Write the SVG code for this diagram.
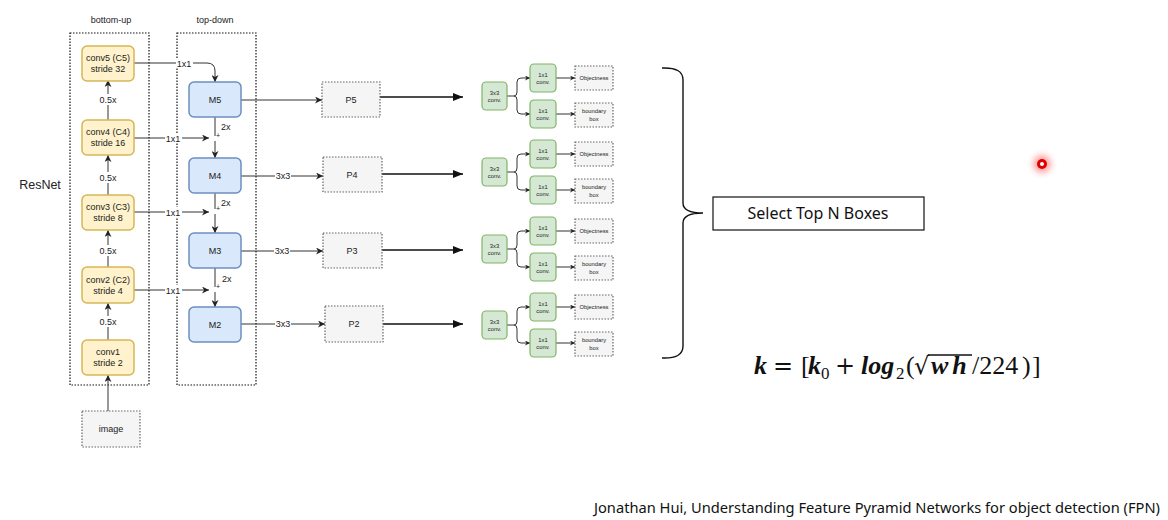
<svg xmlns="http://www.w3.org/2000/svg" width="1168" height="520" viewBox="0 0 1168 520">
<style>
text{font-family:"Liberation Sans",Arial,sans-serif;fill:#222}
.t9{font-size:9px}
.t6{font-size:5.8px}
.c{text-anchor:middle}
.dot{fill:none;stroke:#111;stroke-width:1.2;stroke-dasharray:1.5 1.5}
.yel{fill:#fff2cc;stroke:#d6b656;stroke-width:1.5}
.blu{fill:#dae8fc;stroke:#6c8ebf;stroke-width:1.5}
.grn{fill:#d5e8d4;stroke:#82b366;stroke-width:1.2}
.gry{fill:#f5f5f5;stroke:#666;stroke-width:1.2;stroke-dasharray:1.5 1.5}
.ln{fill:none;stroke:#333;stroke-width:1}
.thk{fill:none;stroke:#111;stroke-width:1.6}
.lbl{fill:#fff}
text.math{font-family:"Liberation Serif","DejaVu Serif",serif;font-size:26px;fill:#111}
.bi{font-weight:bold;font-style:italic}
.op{font-family:"DejaVu Serif",serif;font-size:24px}
</style>
<defs>
<marker id="a" viewBox="0 0 10 10" refX="10" refY="5" markerWidth="7" markerHeight="7" markerUnits="userSpaceOnUse" orient="auto"><path d="M0,0 L10,5 L0,10 L3,5 z" fill="#222"/></marker>
<marker id="ab" viewBox="0 0 10 10" refX="10" refY="5" markerWidth="10" markerHeight="10" markerUnits="userSpaceOnUse" orient="auto"><path d="M0,1 L10,5 L0,9 z" fill="#111"/></marker>
<marker id="as" viewBox="0 0 10 10" refX="10" refY="5" markerWidth="5" markerHeight="5" markerUnits="userSpaceOnUse" orient="auto"><path d="M0,0 L10,5 L0,10 L3,5 z" fill="#222"/></marker>
<filter id="blur" x="-1" y="-1" width="3" height="3"><feGaussianBlur stdDeviation="3"/></filter>
</defs>

<g id="frames">
<text class="t9 c" x="111" y="23">bottom-up</text>
<text class="t9 c" x="215" y="23">top-down</text>
<rect class="dot" x="70" y="33" width="79" height="352"/>
<rect class="dot" x="177" y="33" width="79" height="352"/>
<text x="40" y="189" class="c" style="font-size:12.5px">ResNet</text>
</g>

<g id="connectors">
<line class="ln" x1="108" y1="120" x2="108" y2="80" marker-end="url(#a)"/>
<line class="ln" x1="108" y1="195" x2="108" y2="155" marker-end="url(#a)"/>
<line class="ln" x1="108" y1="267" x2="108" y2="230" marker-end="url(#a)"/>
<line class="ln" x1="108" y1="340" x2="108" y2="303" marker-end="url(#a)"/>
<line class="ln" x1="108" y1="411" x2="108" y2="375" marker-end="url(#a)"/>
<rect class="lbl" x="96" y="94" width="24" height="11"/><text class="t9 c" x="108" y="103">0.5x</text>
<rect class="lbl" x="96" y="172" width="24" height="11"/><text class="t9 c" x="108" y="181">0.5x</text>
<rect class="lbl" x="96" y="245" width="24" height="11"/><text class="t9 c" x="108" y="254">0.5x</text>
<rect class="lbl" x="96" y="316" width="24" height="11"/><text class="t9 c" x="108" y="325">0.5x</text>
<path class="ln" d="M134,63 L207,63 Q215,63 215,71 L215,82" marker-end="url(#a)"/>
<rect class="lbl" x="176" y="58" width="17" height="10"/><text class="t9 c" x="184" y="66.5">1x1</text>
<line class="ln" x1="134" y1="138" x2="209" y2="138" marker-end="url(#a)"/>
<rect class="lbl" x="165" y="133" width="17" height="10"/><text class="t9 c" x="173" y="141.5">1x1</text>
<line class="ln" x1="134" y1="212" x2="209" y2="212" marker-end="url(#a)"/>
<rect class="lbl" x="165" y="207" width="17" height="10"/><text class="t9 c" x="173" y="215.5">1x1</text>
<line class="ln" x1="134" y1="290" x2="209" y2="290" marker-end="url(#a)"/>
<rect class="lbl" x="165" y="285" width="17" height="10"/><text class="t9 c" x="173" y="293.5">1x1</text>
<line class="ln" x1="215" y1="117" x2="215" y2="136"/>
<line class="ln" x1="215" y1="141" x2="215" y2="158" marker-end="url(#a)"/>
<line class="ln" x1="215" y1="193" x2="215" y2="209"/>
<line class="ln" x1="215" y1="214" x2="215" y2="233" marker-end="url(#a)"/>
<line class="ln" x1="215" y1="268" x2="215" y2="287"/>
<line class="ln" x1="215" y1="292" x2="215" y2="307" marker-end="url(#a)"/>
<text class="t9" x="221" y="130">2x</text>
<text class="t9" x="221" y="206">2x</text>
<text class="t9" x="222" y="282">2x</text>
<text x="216" y="138" style="font-size:7px">+</text>
<text x="216" y="211" style="font-size:7px">+</text>
<text x="216" y="289" style="font-size:7px">+</text>
<line class="ln" x1="241" y1="100" x2="322" y2="100" marker-end="url(#a)"/>
<line class="ln" x1="241" y1="176" x2="323" y2="176" marker-end="url(#a)"/>
<rect class="lbl" x="275" y="171" width="16" height="10"/><text class="t9 c" x="283" y="179">3x3</text>
<line class="ln" x1="241" y1="251" x2="323" y2="251" marker-end="url(#a)"/>
<rect class="lbl" x="274" y="246" width="16" height="10"/><text class="t9 c" x="282" y="254">3x3</text>
<line class="ln" x1="241" y1="324" x2="325" y2="324" marker-end="url(#a)"/>
<rect class="lbl" x="275" y="319" width="16" height="10"/><text class="t9 c" x="283" y="327">3x3</text>
<line class="thk" x1="380" y1="97" x2="463" y2="97" marker-end="url(#ab)"/>
<line class="thk" x1="382" y1="174" x2="463" y2="174" marker-end="url(#ab)"/>
<line class="thk" x1="382" y1="250" x2="463" y2="250" marker-end="url(#ab)"/>
<line class="thk" x1="383" y1="324" x2="463" y2="324" marker-end="url(#ab)"/>
<g transform="translate(0,96)">
<path class="ln" d="M507,0 L514,0 Q517,0 517,-4 L517,-14 Q517,-18 521,-18 L530,-18" marker-end="url(#as)"/>
<path class="ln" d="M514,0 Q517,0 517,4 L517,14 Q517,18 521,18 L530,18" marker-end="url(#as)"/>
<line class="ln" x1="556" y1="-18" x2="575" y2="-18" marker-end="url(#as)"/>
<line class="ln" x1="556" y1="18" x2="575" y2="18" marker-end="url(#as)"/>
</g>
<g transform="translate(0,172)">
<path class="ln" d="M507,0 L514,0 Q517,0 517,-4 L517,-14 Q517,-18 521,-18 L530,-18" marker-end="url(#as)"/>
<path class="ln" d="M514,0 Q517,0 517,4 L517,14 Q517,18 521,18 L530,18" marker-end="url(#as)"/>
<line class="ln" x1="556" y1="-18" x2="575" y2="-18" marker-end="url(#as)"/>
<line class="ln" x1="556" y1="18" x2="575" y2="18" marker-end="url(#as)"/>
</g>
<g transform="translate(0,249)">
<path class="ln" d="M507,0 L514,0 Q517,0 517,-4 L517,-14 Q517,-18 521,-18 L530,-18" marker-end="url(#as)"/>
<path class="ln" d="M514,0 Q517,0 517,4 L517,14 Q517,18 521,18 L530,18" marker-end="url(#as)"/>
<line class="ln" x1="556" y1="-18" x2="575" y2="-18" marker-end="url(#as)"/>
<line class="ln" x1="556" y1="18" x2="575" y2="18" marker-end="url(#as)"/>
</g>
<g transform="translate(0,325)">
<path class="ln" d="M507,0 L514,0 Q517,0 517,-4 L517,-14 Q517,-18 521,-18 L530,-18" marker-end="url(#as)"/>
<path class="ln" d="M514,0 Q517,0 517,4 L517,14 Q517,18 521,18 L530,18" marker-end="url(#as)"/>
<line class="ln" x1="556" y1="-18" x2="575" y2="-18" marker-end="url(#as)"/>
<line class="ln" x1="556" y1="18" x2="575" y2="18" marker-end="url(#as)"/>
</g>
<path fill="none" stroke="#111" stroke-width="1.4" d="M662,68 Q683,67 683,80 L683,203 Q683,213 703,213 Q683,213 683,223 L683,346 Q683,359 662,358"/>
</g>

<g id="conv5"><rect class="yel" x="82" y="46" width="52" height="35" rx="5"/><text class="t9 c" x="108" y="61">conv5 (C5)</text><text class="t9 c" x="108" y="72">stride 32</text></g>
<g id="conv4"><rect class="yel" x="82" y="120" width="52" height="35" rx="5"/><text class="t9 c" x="108" y="135">conv4 (C4)</text><text class="t9 c" x="108" y="146">stride 16</text></g>
<g id="conv3"><rect class="yel" x="82" y="195" width="52" height="35" rx="5"/><text class="t9 c" x="108" y="210">conv3 (C3)</text><text class="t9 c" x="108" y="221">stride 8</text></g>
<g id="conv2"><rect class="yel" x="82" y="267" width="52" height="36" rx="5"/><text class="t9 c" x="108" y="283">conv2 (C2)</text><text class="t9 c" x="108" y="294">stride 4</text></g>
<g id="conv1"><rect class="yel" x="82" y="340" width="52" height="35" rx="5"/><text class="t9 c" x="108" y="355">conv1</text><text class="t9 c" x="108" y="366">stride 2</text></g>
<g id="image"><rect class="gry" x="82" y="411" width="58" height="36"/><text class="t9 c" x="111" y="432">image</text></g>

<g id="M5"><rect class="blu" x="189" y="82" width="52" height="35" rx="5"/><text class="t9 c" x="215" y="103">M5</text></g>
<g id="M4"><rect class="blu" x="189" y="158" width="52" height="35" rx="5"/><text class="t9 c" x="215" y="179">M4</text></g>
<g id="M3"><rect class="blu" x="189" y="233" width="52" height="35" rx="5"/><text class="t9 c" x="215" y="254">M3</text></g>
<g id="M2"><rect class="blu" x="189" y="307" width="52" height="35" rx="5"/><text class="t9 c" x="215" y="328">M2</text></g>

<g id="P5"><rect class="gry" x="322" y="82" width="58" height="35"/><text class="t9 c" x="351" y="103">P5</text></g>
<g id="P4"><rect class="gry" x="323" y="157" width="59" height="35"/><text class="t9 c" x="352" y="178">P4</text></g>
<g id="P3"><rect class="gry" x="323" y="233" width="59" height="35"/><text class="t9 c" x="352" y="254">P3</text></g>
<g id="P2"><rect class="gry" x="325" y="306" width="58" height="36"/><text class="t9 c" x="354" y="327">P2</text></g>

<g id="head5" transform="translate(0,96)">
<rect class="grn" x="482" y="-14" width="25" height="28" rx="4"/><text class="t6 c" x="494.5" y="-1.5">3x3</text><text class="t6 c" x="494.5" y="5.5">conv.</text>
<rect class="grn" x="530" y="-32" width="26" height="28" rx="4"/><text class="t6 c" x="543" y="-19.5">1x1</text><text class="t6 c" x="543" y="-12.5">conv.</text>
<rect class="grn" x="530" y="4" width="26" height="28" rx="4"/><text class="t6 c" x="543" y="16.5">1x1</text><text class="t6 c" x="543" y="23.5">conv.</text>
<rect class="gry" x="575" y="-30" width="38" height="24"/><text class="t6 c" x="594" y="-16">Objectness</text>
<rect class="gry" x="575" y="7" width="38" height="24"/><text class="t6 c" x="594" y="17">boundary</text><text class="t6 c" x="594" y="24.5">box</text>
</g>
<g id="head4" transform="translate(0,172)">
<rect class="grn" x="482" y="-14" width="25" height="28" rx="4"/><text class="t6 c" x="494.5" y="-1.5">3x3</text><text class="t6 c" x="494.5" y="5.5">conv.</text>
<rect class="grn" x="530" y="-32" width="26" height="28" rx="4"/><text class="t6 c" x="543" y="-19.5">1x1</text><text class="t6 c" x="543" y="-12.5">conv.</text>
<rect class="grn" x="530" y="4" width="26" height="28" rx="4"/><text class="t6 c" x="543" y="16.5">1x1</text><text class="t6 c" x="543" y="23.5">conv.</text>
<rect class="gry" x="575" y="-30" width="38" height="24"/><text class="t6 c" x="594" y="-16">Objectness</text>
<rect class="gry" x="575" y="7" width="38" height="24"/><text class="t6 c" x="594" y="17">boundary</text><text class="t6 c" x="594" y="24.5">box</text>
</g>
<g id="head3" transform="translate(0,249)">
<rect class="grn" x="482" y="-14" width="25" height="28" rx="4"/><text class="t6 c" x="494.5" y="-1.5">3x3</text><text class="t6 c" x="494.5" y="5.5">conv.</text>
<rect class="grn" x="530" y="-32" width="26" height="28" rx="4"/><text class="t6 c" x="543" y="-19.5">1x1</text><text class="t6 c" x="543" y="-12.5">conv.</text>
<rect class="grn" x="530" y="4" width="26" height="28" rx="4"/><text class="t6 c" x="543" y="16.5">1x1</text><text class="t6 c" x="543" y="23.5">conv.</text>
<rect class="gry" x="575" y="-30" width="38" height="24"/><text class="t6 c" x="594" y="-16">Objectness</text>
<rect class="gry" x="575" y="7" width="38" height="24"/><text class="t6 c" x="594" y="17">boundary</text><text class="t6 c" x="594" y="24.5">box</text>
</g>
<g id="head2" transform="translate(0,325)">
<rect class="grn" x="482" y="-14" width="25" height="28" rx="4"/><text class="t6 c" x="494.5" y="-1.5">3x3</text><text class="t6 c" x="494.5" y="5.5">conv.</text>
<rect class="grn" x="530" y="-32" width="26" height="28" rx="4"/><text class="t6 c" x="543" y="-19.5">1x1</text><text class="t6 c" x="543" y="-12.5">conv.</text>
<rect class="grn" x="530" y="4" width="26" height="28" rx="4"/><text class="t6 c" x="543" y="16.5">1x1</text><text class="t6 c" x="543" y="23.5">conv.</text>
<rect class="gry" x="575" y="-30" width="38" height="24"/><text class="t6 c" x="594" y="-16">Objectness</text>
<rect class="gry" x="575" y="7" width="38" height="24"/><text class="t6 c" x="594" y="17">boundary</text><text class="t6 c" x="594" y="24.5">box</text>
</g>

<g id="select">
<rect x="713" y="197" width="211" height="33" fill="#fff" stroke="#111" stroke-width="1.2"/>
<text x="818" y="219" class="c" style="font-family:'Noto Sans',sans-serif;font-size:16px;fill:#111">Select Top N Boxes</text>
</g>

<g id="formula">
<text class="math" y="374"><tspan class="bi" x="754">k</tspan><tspan class="op" x="773">=</tspan><tspan x="801">[</tspan><tspan class="bi" x="808">k</tspan><tspan x="821" y="379" font-size="17">0</tspan><tspan class="op" x="835" y="374">+</tspan><tspan class="bi" x="861">log</tspan><tspan x="896" y="379" font-size="17">2</tspan><tspan x="906" y="374">(</tspan><tspan x="914" style="font-family:'DejaVu Serif',serif;font-size:24px">√</tspan><tspan class="bi" x="931" letter-spacing="4">wh</tspan><tspan x="972" letter-spacing="0">/224</tspan><tspan x="1022">)</tspan><tspan x="1032">]</tspan></text>
<line x1="928" y1="355" x2="972" y2="355" stroke="#111" stroke-width="1.3"/>
</g>

<g id="pointer">
<circle cx="1042" cy="164" r="9" fill="#ff3030" opacity="0.45" filter="url(#blur)"/>
<circle cx="1042" cy="164" r="5" fill="#e00000"/>
<circle cx="1042" cy="164" r="2" fill="#fff"/>
</g>

<text x="594" y="513" textLength="566" lengthAdjust="spacingAndGlyphs" style="font-family:'Noto Sans',sans-serif;font-size:14px;fill:#111">Jonathan Hui, Understanding Feature Pyramid Networks for object detection (FPN)</text>
</svg>
